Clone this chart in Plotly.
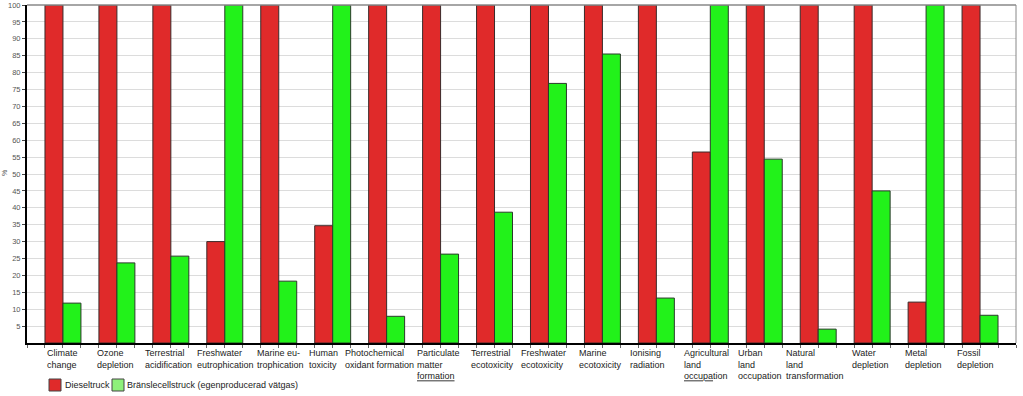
import plotly.graph_objects as go

categories = [
    "Climate<br>change", "Ozone<br>depletion", "Terrestrial<br>acidification",
    "Freshwater<br>eutrophication", "Marine eu-<br>trophication", "Human<br>toxicity",
    "Photochemical<br>oxidant formation", "Particulate<br>matter<br><u>formation</u>",
    "Terrestrial<br>ecotoxicity", "Freshwater<br>ecotoxicity", "Marine<br>ecotoxicity",
    "Ionising<br>radiation", "Agricultural<br>land<br><u>occupa</u>tion", "Urban<br>land<br>occupation",
    "Natural<br>land<br>transformation", "Water<br>depletion", "Metal<br>depletion", "Fossil<br>depletion",
]
diesel = [100, 100, 100, 30, 100, 34.7, 100, 100, 100, 100, 100, 100, 56.5, 100, 100, 100, 12.1, 100]
fuelcell = [11.8, 23.7, 25.7, 100, 18.3, 100, 7.9, 26.3, 38.7, 76.8, 85.5, 13.3, 100, 54.4, 4.1, 45, 100, 8.2]
series_names = ["Dieseltruck", "Bränslecellstruck (egenproducerad vätgas)"]
ytick_vals = list(range(5, 101, 5))
label_shift = [0, -1, -2, 1, 2, -9, -7, -2, -2, -5, -2, -9, -4, -4, -3, -2, -3, -5]

RED = "#e02a2a"
GREEN = "#22f21a"
LEG_GREEN = "#8ef07a"
W, H = 1023, 396
L, R, T, B = 27, 1016, 5, 343
FONT = "Liberation Sans, Arial"

x = list(range(len(categories)))
fig = go.Figure()
fig.add_trace(go.Bar(x=x, y=diesel, name=series_names[0], marker=dict(color=RED, line=dict(color="#3a2a2a", width=1)), showlegend=False))
fig.add_trace(go.Bar(x=x, y=fuelcell, name=series_names[1], marker=dict(color=GREEN, line=dict(color="#2a3a2a", width=1)), showlegend=False))

def px(p):
    return (p - L) / (R - L)

def py(p):
    return (B - p) / (B - T)

annotations = []
for i, c in enumerate(categories):
    annotations.append(dict(x=i, y=py(346), xref="x", yref="paper", text=c, showarrow=False,
                            xanchor="center", yanchor="top", align="left", xshift=label_shift[i],
                            font=dict(family=FONT, size=9, color="#222")))
annotations.append(dict(x=px(4), y=py(173), xref="paper", yref="paper", text="%", showarrow=False,
                        xanchor="center", yanchor="middle",
                        textangle=-90, font=dict(family=FONT, size=7, color="#555")))
# legend
annotations.append(dict(x=px(63), y=py(385), xref="paper", yref="paper", text=series_names[0], showarrow=False,
                        xanchor="left", yanchor="middle", font=dict(family=FONT, size=9, color="#222")))
annotations.append(dict(x=px(125), y=py(385), xref="paper", yref="paper", text=series_names[1], showarrow=False,
                        xanchor="left", yanchor="middle", font=dict(family=FONT, size=9, color="#222")))

shapes = [
    dict(type="rect", xref="paper", yref="paper", x0=px(49), x1=px(61), y0=py(379), y1=py(391),
         fillcolor=RED, line=dict(color="#444", width=1)),
    dict(type="rect", xref="paper", yref="paper", x0=px(112), x1=px(124), y0=py(379), y1=py(391),
         fillcolor=LEG_GREEN, line=dict(color="#444", width=1)),
    dict(type="line", xref="paper", yref="paper", x0=0, x1=1, y0=1, y1=1, line=dict(color="#888", width=1.5)),
    dict(type="line", xref="paper", yref="paper", x0=1, x1=1, y0=0, y1=1, line=dict(color="#888", width=1)),
]

fig.update_layout(
    width=W, height=H,
    margin=dict(l=L, r=W - R, t=T, b=H - B, pad=0, autoexpand=False),
    paper_bgcolor="white", plot_bgcolor="white",
    barmode="group", bargap=1/3, bargroupgap=0,
    showlegend=False,
    annotations=annotations, shapes=shapes,
    xaxis=dict(range=[-2/3, len(categories) - 1 + 2/3], showgrid=False, zeroline=False, automargin=False,
               showline=True, linecolor="black", linewidth=2,
               tickmode="linear", tick0=-1/3, dtick=1/3, ticks="outside", ticklen=3,
               tickcolor="#666", showticklabels=False),
    yaxis=dict(range=[0, 100], tickvals=ytick_vals, ticktext=[str(v) for v in ytick_vals],
               showgrid=True, gridcolor="#dcdcdc", gridwidth=1, zeroline=False, automargin=False,
               showline=True, linecolor="black", linewidth=2,
               ticks="outside", ticklen=3, tickcolor="#444",
               tickfont=dict(family=FONT, size=7.5, color="#555")),
)

fig.write_html("out.html", config={"displayModeBar": False},
               post_script="document.body.style.margin='0';document.body.style.overflow='hidden';")
